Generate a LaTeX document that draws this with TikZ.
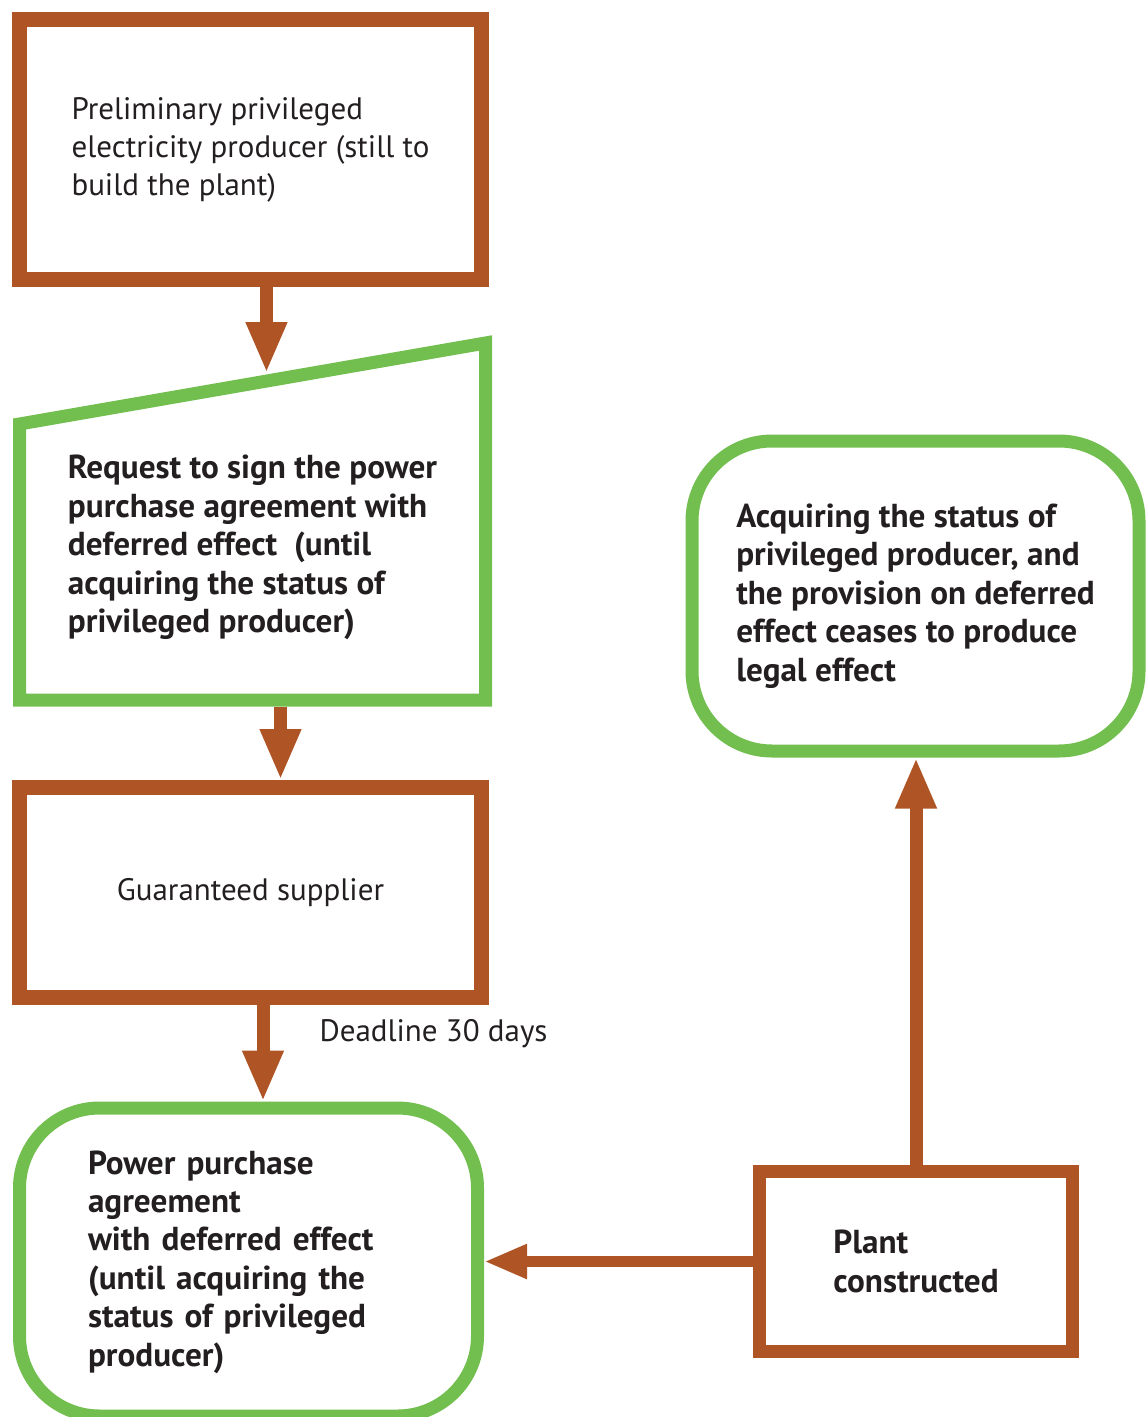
\documentclass[tikz,border=0pt]{standalone}
\usepackage{fontspec}
\setmainfont{PT Sans}
\usetikzlibrary{arrows.meta, positioning, calc}
\definecolor{plantbrown}{HTML}{AF5424}
\definecolor{plantgreen}{HTML}{72BF4F}
\definecolor{plantink}{HTML}{231F20}
\tikzset{
  box/.style={rectangle, draw=plantbrown, line width=7.5pt, fill=white, align=left,
              text=plantink, inner sep=0pt, font=\fontsize{15.5}{19}\selectfont},
  boxb/.style={box, line width=6.5pt, font=\fontsize{16.6}{19.2}\selectfont\bfseries},
  boxg/.style={box, draw=plantgreen, line width=6.5pt, rounded corners=40pt,
               font=\fontsize{16.6}{19.2}\selectfont\bfseries},
  trap/.style={draw=plantgreen, line width=6.5pt, line join=miter},
  flow/.style={-{Triangle[width=19pt, length=25.5pt]}, line width=6.5pt, draw=plantbrown},
  flowl/.style={-{Triangle[width=16pt, length=21.5pt]}, line width=5.5pt, draw=plantbrown},
  lbl/.style={font=\fontsize{15.5}{19}\selectfont, text=plantink, inner sep=0pt},
}

\begin{document}
\begin{tikzpicture}[x=0.5pt, y=-0.5pt]
    \useasboundingbox (0,0) rectangle (1145,1417);
    % left column
    \node[box, minimum width=231pt, minimum height=130pt] (prelim) at (250.5,149.5)
      {Preliminary privileged\\electricity producer (still to\\build the plant)};
    \node[box, draw=none, fill=none, font=\fontsize{16.6}{19.2}\selectfont\bfseries,
          minimum width=233pt, minimum height=152.5pt, outer sep=0pt] (req) at (252.5,547.5)
      {Request to sign the power\\purchase agreement with\\deferred effect\ \ (until\\acquiring the status of\\privileged producer)};
    \coordinate (reqnw) at ([yshift=-14.5pt]req.north west);
    \coordinate (reqne) at ([yshift=26pt]req.north east);
    \draw[trap] (req.south west) -- (req.south east) -- (reqne) -- (reqnw) -- cycle;
    \coordinate (reqtip) at ($(reqnw)!0.53!(reqne) + (0,-8)$);
    \node[box, minimum width=231pt, minimum height=105pt] (sup) at (250.5,892.5)
      {Guaranteed supplier};
    \node[boxg, minimum width=229pt, minimum height=154pt, text width=160.5pt] (ppa) at (248.5,1262)
      {Power purchase\\agreement\\with deferred effect\\(until acquiring the\\status of privileged\\producer)};

    % right column
    \node[boxg, minimum width=223.5pt, minimum height=155pt] (acq) at (915.5,596)
      {Acquiring the status of\\privileged producer, and\\the provision on deferred\\effect ceases to produce\\legal effect};
    \node[boxb, minimum width=156.5pt, minimum height=90pt] (plant) at (916,1261.5)
      {Plant\\constructed};

    % connectors
    \draw[flow] (prelim.south -| reqtip) -- (reqtip);
    \draw[flow] ([xshift=14pt, yshift=-3.25pt]req.south) -- ([xshift=14pt]req.south |- sup.north);
    \draw[flow] ([xshift=6.25pt]sup.south) -- ([xshift=6.25pt]sup.south |- ppa.north)
      node[lbl, pos=0.3, right=25pt] {Deadline 30 days};
    \draw[flow] (plant.north) -- (plant.north |- acq.south);
    \draw[flowl] (plant.west) -- (plant.west -| ppa.east);
\end{tikzpicture}
\end{document}
